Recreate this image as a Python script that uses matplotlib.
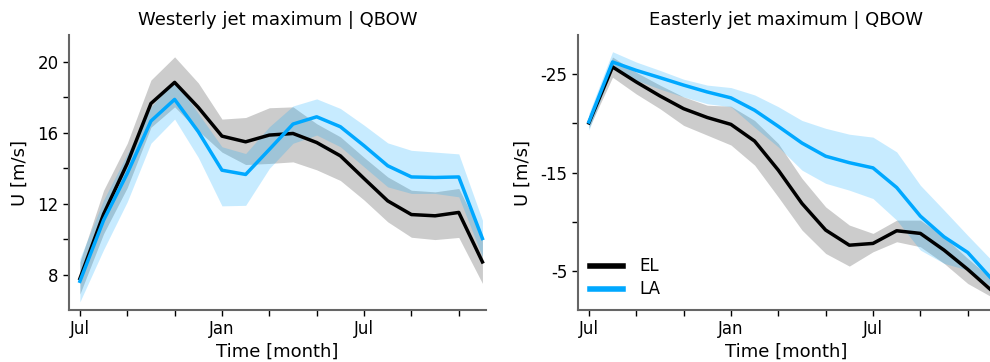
import numpy as np
import matplotlib
matplotlib.use("Agg")
import matplotlib.pyplot as plt

months = np.arange(18)
month_ticks = [0, 6, 12]
month_labels = ["Jul", "Jan", "Jul"]

# Westerly jet maximum | QBOW
w_el = [7.77, 11.4, 14.26, 17.64, 18.83, 17.42, 15.8, 15.48, 15.86, 15.95,
        15.44, 14.69, 13.41, 12.15, 11.38, 11.31, 11.5, 8.71]
w_el_hi = [8.7, 12.75, 15.4, 18.96, 20.27, 18.8, 16.76, 16.85, 17.4, 17.45,
           16.5, 15.76, 14.6, 13.5, 12.75, 12.66, 12.85, 10.2]
w_el_lo = [6.9, 10.3, 12.9, 16.3, 17.45, 16.1, 14.9, 14.2, 14.26, 14.35,
           13.9, 13.3, 12.2, 10.97, 10.1, 9.97, 10.09, 7.5]
w_la = [7.62, 11.06, 13.7, 16.65, 17.87, 16.05, 13.88, 13.64, 15.05, 16.48,
        16.89, 16.33, 15.26, 14.13, 13.5, 13.47, 13.5, 10.03]
w_la_hi = [8.9, 12.2, 14.8, 17.45, 18.96, 17.08, 15.2, 14.82, 16.33, 17.5,
           17.9, 17.36, 16.42, 15.42, 15.0, 14.9, 14.8, 11.06]
w_la_lo = [6.46, 9.4, 12.1, 15.4, 16.76, 14.6, 11.87, 11.9, 13.98, 15.4,
           15.86, 15.2, 14.07, 12.94, 12.57, 12.57, 12.38, 9.0]

# Easterly jet maximum | QBOW
e_el = [-20.05, -25.75, -24.22, -22.8, -21.5, -20.6, -19.9, -18.2, -15.24, -11.85,
        -9.14, -7.6, -7.78, -9.07, -8.8, -7.1, -5.14, -3.0]
e_el_hi = [-20.6, -26.76, -25.2, -23.9, -22.7, -21.85, -21.75, -20.3, -17.95, -14.4,
           -11.5, -9.65, -8.8, -10.15, -10.15, -8.45, -6.25, -4.2]
e_el_lo = [-19.5, -24.7, -23.0, -21.5, -19.8, -18.8, -17.8, -15.75, -12.5, -9.14,
           -6.76, -5.47, -6.93, -7.95, -7.44, -5.75, -3.7, -2.35]
e_la = [-20.15, -26.25, -25.4, -24.66, -23.9, -23.2, -22.6, -21.34, -19.7, -18.0,
        -16.66, -16.0, -15.47, -13.47, -10.56, -8.45, -6.86, -4.2]
e_la_hi = [-21.0, -27.3, -26.25, -25.4, -24.5, -23.9, -23.65, -22.9, -21.7, -20.3,
           -19.5, -18.9, -18.6, -17.1, -13.7, -11.17, -8.6, -6.1]
e_la_lo = [-19.3, -25.6, -24.4, -23.5, -22.7, -22.0, -21.7, -19.6, -17.6, -15.24,
           -13.9, -13.2, -12.35, -10.15, -7.1, -5.75, -5.07, -3.4]

el_color = "black"
la_color = "#00a8ff"
spine_color = "#666666"

fig = plt.figure(figsize=(9.9, 3.62), dpi=100)
ax1 = fig.add_axes([0.0697, 0.1436, 0.4212, 0.7597])
ax2 = fig.add_axes([0.5838, 0.1436, 0.4212, 0.7597])

def draw(ax, el, el_lo, el_hi, la, la_lo, la_hi, title):
    ax.fill_between(months, el_lo, el_hi, color="black", alpha=0.2, lw=0)
    ax.fill_between(months, la_lo, la_hi, color=la_color, alpha=0.22, lw=0)
    ax.plot(months, el, color=el_color, lw=2.5, label="EL")
    ax.plot(months, la, color=la_color, lw=2.5, label="LA")
    ax.set_title(title, fontsize=13, pad=7)
    ax.set_xlabel("Time [month]", fontsize=13, labelpad=3)
    ax.set_ylabel("U [m/s]", fontsize=13, labelpad=6)
    ax.set_xlim(-0.46, 17.15)
    ax.set_xticks(month_ticks)
    ax.set_xticklabels(month_labels)
    ax.set_xticks([2, 4, 8, 10, 14, 16], minor=True)
    for s in ["top", "right"]:
        ax.spines[s].set_visible(False)
    for s in ["left", "bottom"]:
        ax.spines[s].set_color(spine_color)
        ax.spines[s].set_linewidth(1.5)
    ax.tick_params(which="both", direction="out", length=4, width=1,
                   color="black", labelsize=12)

draw(ax1, w_el, w_el_lo, w_el_hi, w_la, w_la_lo, w_la_hi,
     "Westerly jet maximum | QBOW")
ax1.set_ylim(6, 21.5)
ax1.set_yticks([8, 12, 16, 20])
ax1.set_yticks([10, 14, 18], minor=True)

draw(ax2, e_el, e_el_lo, e_el_hi, e_la, e_la_lo, e_la_hi,
     "Easterly jet maximum | QBOW")
ax2.set_ylim(-1, -29)
ax2.set_yticks([-25, -15, -5])
ax2.set_yticklabels(["-25", "-15", "-5"])
ax2.set_yticks([-20, -10], minor=True)
ax2.legend(loc="lower left", frameon=False, fontsize=12, handlelength=2.0,
           handletextpad=1.0, labelspacing=0.3,
           borderaxespad=0.3, bbox_to_anchor=(0.0, 0.0))
for line in ax2.get_legend().get_lines():
    line.set_linewidth(4)

fig.savefig("out.png", dpi=100)
